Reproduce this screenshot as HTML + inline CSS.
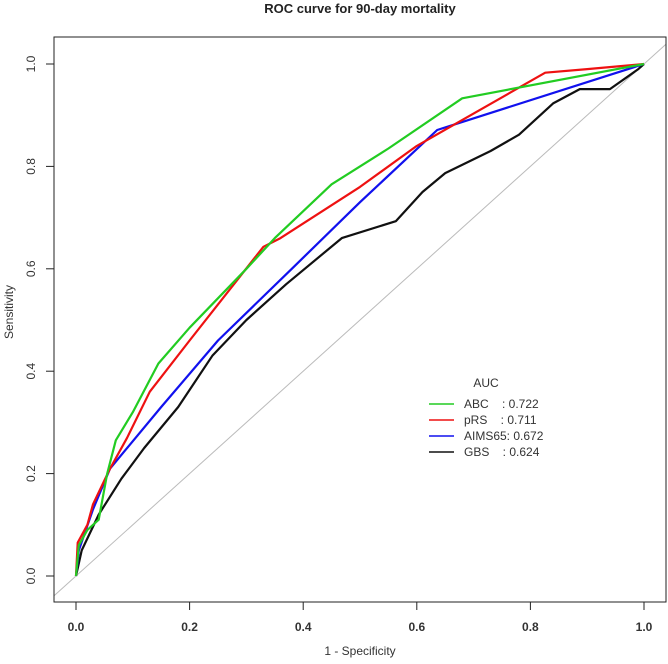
<!DOCTYPE html>
<html><head><meta charset="utf-8"><style>
body{margin:0;background:#fff;}
svg text{font-family:"Liberation Sans",sans-serif;}
</style></head><body>
<svg id="chart" width="668" height="659" xmlns="http://www.w3.org/2000/svg">
<text x="360" y="13" text-anchor="middle" font-size="13" font-weight="bold" fill="#222">ROC curve for 90-day mortality</text>
<defs><clipPath id="clip"><rect x="54" y="37" width="612" height="565"/></clipPath></defs>
<g id="diag" clip-path="url(#clip)"></g>
<g id="series" clip-path="url(#clip)"></g>
<rect x="54" y="37" width="612" height="565" fill="none" stroke="#222" stroke-width="1"/>
<g id="axes"></g>
<text x="360" y="655" text-anchor="middle" font-size="12" fill="#333">1 - Specificity</text>
<text transform="translate(13,312) rotate(-90)" text-anchor="middle" font-size="12" fill="#333">Sensitivity</text>
<g id="legend"></g>
</svg>
<script>
const ticks = [0, 0.2, 0.4, 0.6, 0.8, 1.0];
const tickLabels = ["0.0","0.2","0.4","0.6","0.8","1.0"];
const seriesNames = ["ABC","pRS","AIMS65","GBS"];
const seriesColors = ["#22cc22","#ee1111","#1111ee","#111111"];
const aucLabels = ["ABC    : 0.722","pRS    : 0.711","AIMS65: 0.672","GBS    : 0.624"];
const abcX = [0,0.005,0.02,0.04,0.055,0.07,0.1,0.145,0.2,0.3,0.35,0.45,0.55,0.68,1];
const abcY = [0,0.06,0.09,0.11,0.2,0.265,0.32,0.415,0.485,0.6,0.66,0.765,0.835,0.933,1];
const prsX = [0,0.003,0.02,0.03,0.06,0.09,0.13,0.2,0.33,0.36,0.5,0.6,0.826,0.9,1];
const prsY = [0,0.065,0.1,0.14,0.21,0.27,0.36,0.46,0.643,0.66,0.76,0.84,0.983,0.99,1];
const aimsX = [0,0.005,0.03,0.06,0.15,0.25,0.38,0.5,0.636,1];
const aimsY = [0,0.05,0.13,0.21,0.33,0.46,0.6,0.73,0.871,1];
const gbsX = [0,0.01,0.04,0.08,0.12,0.18,0.24,0.3,0.37,0.468,0.563,0.61,0.65,0.73,0.78,0.84,0.887,0.94,0.99,1];
const gbsY = [0,0.05,0.12,0.19,0.25,0.33,0.43,0.5,0.57,0.66,0.693,0.75,0.787,0.83,0.862,0.923,0.951,0.951,0.99,1];

const NS="http://www.w3.org/2000/svg";
const xs = v => 76 + 568*v;
const ys = v => 576 - 512*v;
function mk(tag, attrs, parent){const e=document.createElementNS(NS,tag);for(const k in attrs)e.setAttribute(k,attrs[k]);parent.appendChild(e);return e;}

const diag=mk('line',{x1:xs(-0.1),y1:ys(-0.1),x2:xs(1.1),y2:ys(1.1),stroke:'#bbb','stroke-width':1},document.getElementById('diag'));



const axes=document.getElementById('axes');
ticks.forEach((t,i)=>{
  const a=mk('line',{x1:xs(t),y1:602,x2:xs(t),y2:610,stroke:'#222'},axes);
  
  
  const tl=mk('text',{x:xs(t),y:631,'text-anchor':'middle','font-size':12,'font-weight':'bold',fill:'#333'},axes);
  tl.textContent=tickLabels[i];
  
  
  const b=mk('line',{x1:46,y1:ys(t),x2:54,y2:ys(t),stroke:'#222'},axes);
  
  
  const yl=mk('text',{transform:`translate(35,${ys(t)}) rotate(-90)`,'text-anchor':'middle','font-size':12,fill:'#333'},axes);
  yl.textContent=tickLabels[i];
  
  
});

const sx=[abcX,prsX,aimsX,gbsX], sy=[abcY,prsY,aimsY,gbsY];
const sg=document.getElementById('series');
[3,2,1,0].forEach(i=>{
  const pts=sx[i].map((x,j)=>xs(x).toFixed(1)+','+ys(sy[i][j]).toFixed(1)).join(' ');
  const p=mk('polyline',{points:pts,fill:'none',stroke:seriesColors[i],'stroke-width':2.2,'stroke-linejoin':'round'},sg);
  
  
});

const lg=document.getElementById('legend');
const lt=mk('text',{x:486,y:387,'text-anchor':'middle','font-size':12,fill:'#333'},lg);
lt.textContent='AUC';


aucLabels.forEach((s,i)=>{
  const y=404+16*i;
  const l=mk('line',{x1:429,y1:y,x2:454,y2:y,stroke:seriesColors[i],'stroke-width':1.5},lg);
  
  
  const t=mk('text',{x:464,y:y+4,'font-size':12,fill:'#333'},lg);
  t.style.whiteSpace='pre';
  t.textContent=s;
  
  
});
</script>
</body></html>
